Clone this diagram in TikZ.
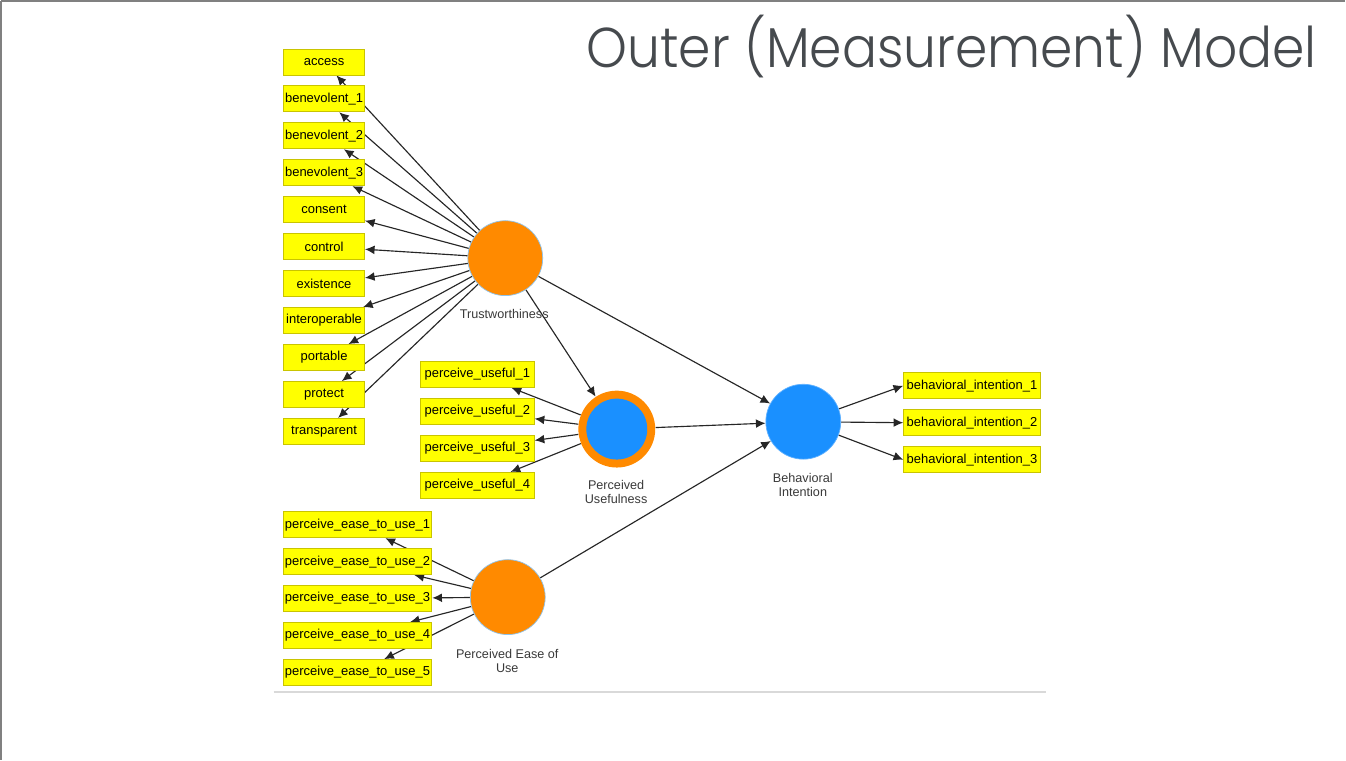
\documentclass[tikz,border=0pt]{standalone}
\usepackage{fontspec}
\setmainfont{Liberation Sans}
\newfontfamily\titlefont{Poppins Light}
\usetikzlibrary{arrows.meta}
\pgfdeclarelayer{bg}
\pgfdeclarelayer{edges}
\pgfsetlayers{bg,edges,main}
\definecolor{indfill}{HTML}{FFFF00}
\definecolor{inddraw}{HTML}{C9C400}
\definecolor{lvorange}{HTML}{FF8A00}
\definecolor{lvblue}{HTML}{1A90FF}
\definecolor{lvedge}{HTML}{8EC3EC}
\definecolor{titlegray}{HTML}{464A4E}
\definecolor{labelgray}{HTML}{3A3A3A}
\tikzset{
  ind/.style={draw=inddraw, fill=indfill, line width=0.5pt, inner sep=0pt,
    minimum height=26*0.02cm, font=\fontsize{7.4}{8}\selectfont},
  lv/.style={circle, draw=lvedge, line width=0.4pt, minimum size=75*0.02cm, inner sep=0pt},
  lvlabel/.style={text=labelgray, font=\fontsize{7.2}{8}\selectfont, align=center},
  load/.style={draw=black!85, line width=0.65pt, -{Latex[length=5.5pt,width=5pt]}},
}
\begin{document}
\begin{tikzpicture}[x=0.02cm, y=-0.02cm]
\begin{pgfonlayer}{bg}
  \fill[white] (0,0) rectangle (1346,760);
  \draw[black!50, line width=1.2pt] (0,0) -- (1346,0);
  \draw[black!50, line width=1.2pt] (0,0) -- (0,760);
  \draw[black!15, line width=0.8pt] (273,692) -- (1047,692);
\end{pgfonlayer}
\useasboundingbox (0,0) rectangle (1346,760);

% title
\node[anchor=base east, text=titlegray, inner sep=0pt,
  font=\titlefont\fontsize{32}{36}\selectfont] (title) at (1318,67)
  {\scalebox{0.925}[1]{Outer (Measurement) Model}};

% latent variables
\node[lv, fill=lvorange] (T) at (505,257.5) {};
\node[lvlabel] (Tl) at (504,313) {Trustworthiness};
\node[lv, fill=lvorange, minimum size=77*0.02cm, draw=none] (PU) at (616.7,428.7) {};
\node[circle, fill=lvblue, minimum size=61*0.02cm, inner sep=0pt] (PUin) at (616.7,428.7) {};
\node[lvlabel] (PUl) at (616,492) {Perceived\\Usefulness};
\node[lv, fill=lvblue, draw=lvblue!70] (BI) at (803.5,421.3) {};
\node[lvlabel] (BIl) at (803,484.5) {Behavioral\\Intention};
\node[lv, fill=lvorange] (PE) at (507.5,597) {};
\node[lvlabel] (PEl) at (507,660.5) {Perceived Ease of\\Use};

% trustworthiness indicators
\foreach \nm/\txt [count=\k from 0] in {acc/access, ben1/benevolent\_1, ben2/benevolent\_2,
    ben3/benevolent\_3, cons/consent, ctrl/control, exis/existence, intop/interoperable,
    port/portable, prot/protect, trans/transparent}
  \node[ind, minimum width=81*0.02cm] (\nm) at (323.5,61+37*\k) {\txt};

% perceived usefulness indicators
\foreach \k in {1,...,4}
  \node[ind, minimum width=114*0.02cm] (pu\k) at (477,374+37*\k-37) {perceive\_useful\_\k};

% behavioral intention indicators
\foreach \k in {1,...,3}
  \node[ind, minimum width=137*0.02cm] (bi\k) at (972.5,385.3+37*\k-37) {behavioral\_intention\_\k};

% ease of use indicators
\foreach \k in {1,...,5}
  \node[ind, minimum width=149*0.02cm] (pe\k) at (357,524.5+37*\k-37) {perceive\_ease\_to\_use\_\k};

% loadings and paths
\begin{pgfonlayer}{edges}
  \foreach \nm in {acc,ben1,ben2,ben3,cons,ctrl,exis,intop,port,prot,trans}
    \draw[load] (T) -- (\nm);
  \foreach \k in {1,...,4}
    \draw[load] (PU) -- (pu\k);
  \foreach \k in {1,...,3}
    \draw[load] (BI) -- (bi\k.west);
  \foreach \k in {1,...,5}
    \draw[load] (PE) -- (pe\k);
  \draw[load] (T) -- (PU);
  \draw[load] (T) -- (BI);
  \draw[load] (PU) -- (BI);
  \draw[load] (PE) -- (BI);
\end{pgfonlayer}
\end{tikzpicture}
\end{document}
